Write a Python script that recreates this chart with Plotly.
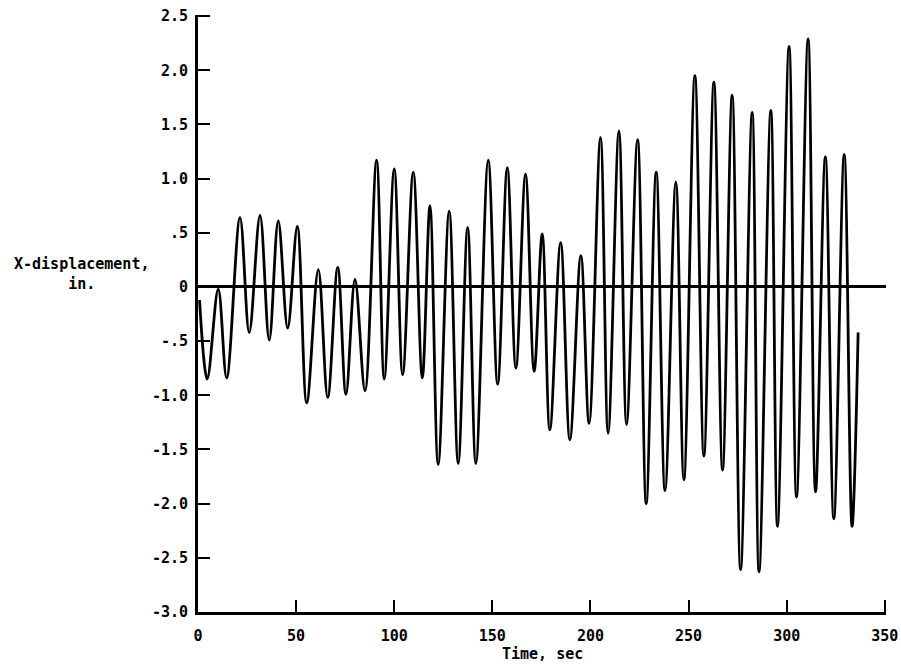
import plotly.graph_objects as go

# Extrema of the recorded X-displacement trace (time in sec, displacement in in.)
time_sec = [0.8, 4.7, 10.3, 14.6, 21.4, 26.1, 31.6, 36.3, 40.9, 45.7, 50.6, 55.4,
            61.3, 66.1, 71.2, 75.4, 80.0, 85.1, 91.0, 94.9, 100.0, 104.3, 109.7, 114.3,
            118.2, 122.4, 128.0, 132.6, 137.4, 141.6, 147.9, 152.7, 157.6, 162.0, 166.9,
            171.3, 175.4, 179.3, 184.8, 189.5, 195.1, 199.3, 205.1, 209.0, 214.5, 218.4,
            224.0, 228.4, 233.5, 238.0, 243.5, 247.6, 253.2, 257.8, 262.9, 267.3, 272.2,
            276.5, 282.4, 285.9, 291.9, 295.3, 301.2, 305.0, 310.9, 314.7, 319.7, 324.0,
            329.3, 333.3, 336.4]
x_disp_in = [-0.12, -0.85, -0.02, -0.84, 0.64, -0.42, 0.66, -0.49, 0.61, -0.38, 0.56, -1.07,
             0.16, -1.02, 0.18, -0.99, 0.07, -0.96, 1.17, -0.85, 1.09, -0.81, 1.06, -0.84,
             0.75, -1.64, 0.70, -1.63, 0.55, -1.63, 1.17, -0.90, 1.10, -0.75, 1.04,
             -0.78, 0.49, -1.32, 0.41, -1.41, 0.29, -1.26, 1.38, -1.35, 1.44, -1.27,
             1.36, -2.00, 1.06, -1.88, 0.97, -1.78, 1.95, -1.56, 1.89, -1.69, 1.77,
             -2.61, 1.61, -2.63, 1.63, -2.21, 2.22, -1.94, 2.29, -1.89, 1.20, -2.14,
             1.22, -2.21, -0.42]

x_ticks = [0, 50, 100, 150, 200, 250, 300, 350]
y_ticks = [2.5, 2.0, 1.5, 1.0, 0.5, 0, -0.5, -1.0, -1.5, -2.0, -2.5, -3.0]
y_tick_labels = ["2.5", "2.0", "1.5", "1.0", ".5", "0", "-.5", "-1.0", "-1.5", "-2.0", "-2.5", "-3.0"]

FONT = dict(family="DejaVu Sans Mono", size=15, color="black", weight="bold")

W, H = 901, 665
L, R, T, B = 198, 15, 15, 53
plot_w = W - L - R
plot_h = H - T - B

fig = go.Figure()
fig.add_trace(go.Scatter(
    x=time_sec, y=x_disp_in, mode="lines",
    line=dict(color="black", width=2.8, shape="spline", smoothing=1.0),
    showlegend=False, hoverinfo="skip",
))

fig.update_layout(
    width=W, height=H,
    margin=dict(l=L, r=R, t=T, b=B, autoexpand=False),
    paper_bgcolor="white", plot_bgcolor="white",
    font=FONT,
    showlegend=False,
)

fig.update_xaxes(
    range=[0, 350.6], tickvals=x_ticks, ticktext=[str(v) for v in x_ticks],
    showline=True, linecolor="black", linewidth=3,
    ticks="inside", ticklen=12, tickwidth=2, tickcolor="black",
    showgrid=False, zeroline=False, tickfont=FONT, ticklabelstandoff=8,
    ticklabeloverflow="allow",
)
fig.update_yaxes(
    range=[-3.0, 2.51], tickvals=y_ticks, ticktext=y_tick_labels,
    showline=True, linecolor="black", linewidth=3,
    ticks="inside", ticklen=12, tickwidth=2, tickcolor="black",
    showgrid=False, zeroline=True, zerolinecolor="black", zerolinewidth=3,
    tickfont=FONT, ticklabelstandoff=4, ticklabeloverflow="allow",
)

fig.add_annotation(
    text="Time, sec", xref="paper", yref="paper", x=0.5, y=-(654 - 612) / plot_h,
    xanchor="center", yanchor="middle", showarrow=False, font=FONT,
)
fig.add_annotation(
    text="X-displacement,<br>in.", xref="paper", yref="paper",
    x=-(198 - 81) / plot_w, y=(612 - 274) / plot_h,
    xanchor="center", yanchor="middle", showarrow=False, align="center", font=FONT,
)

fig.write_html(
    "out.html",
    config={"displayModeBar": False, "staticPlot": True},
    post_script="document.body.style.margin='0';document.body.style.overflow='hidden';",
)
